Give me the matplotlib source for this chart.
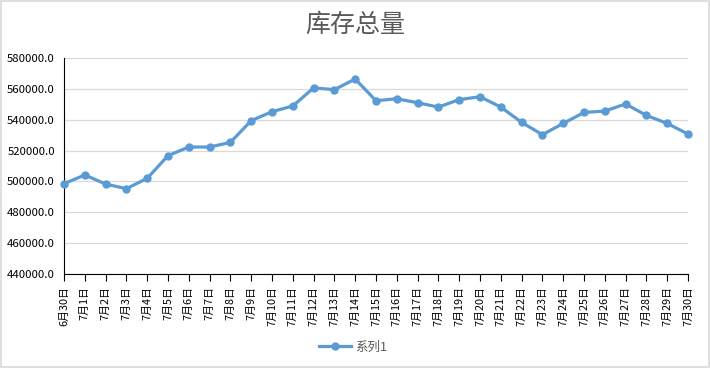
import matplotlib.pyplot as plt
from matplotlib.patches import Rectangle

plt.rcParams['font.family'] = ['Noto Sans CJK SC', 'DejaVu Sans']

dates = ["6月30日"] + [f"7月{d}日" for d in range(1, 31)]
stock = [498500, 504200, 498300, 495300, 502000, 516700, 522300, 522300,
         525300, 539400, 545200, 548900, 560600, 559500, 566400, 552300,
         553600, 551000, 548200, 553000, 554900, 548200, 538300, 530300,
         537600, 544700, 545600, 550200, 542800, 537600, 530700]
yticks = [440000, 460000, 480000, 500000, 520000, 540000, 560000, 580000]

fig = plt.figure(figsize=(7.1, 3.68), dpi=100)
ax = fig.add_axes([64 / 710, 1 - 274 / 368, 624 / 710, 216 / 368])

x = list(range(len(dates)))
ax.plot(x, stock, color="#5B9BD5", linewidth=2.3, marker="o",
        markersize=5, label="系列1", clip_on=False, zorder=3)

ax.set_xlim(0, len(dates) - 1)
ax.set_ylim(440000, 580000)
ax.set_yticks(yticks)
ax.set_yticklabels([f"{v:.1f}" for v in yticks], fontsize=8.2, color="#000000")
ax.set_xticks(x)
ax.set_xticklabels(dates, rotation=90, fontsize=7.8, va="top", ha="center")

ax.grid(axis="y", color="#d9d9d9", linewidth=0.9)
ax.set_axisbelow(True)
for s in ["top", "right"]:
    ax.spines[s].set_visible(False)
ax.spines["left"].set_color("black")
ax.spines["bottom"].set_color("black")
ax.spines["left"].set_linewidth(0.8)
ax.spines["bottom"].set_linewidth(0.8)
ax.tick_params(axis="y", length=0, pad=6.5)
ax.tick_params(axis="x", length=5, width=0.8, direction="out", pad=4)

fig.text(355 / 710, 1 - 25 / 368, "库存总量", ha="center", va="center",
         fontsize=18, color="#595959")

leg = fig.legend(loc="center", bbox_to_anchor=(353 / 710, 1 - 347 / 368),
                 frameon=False, fontsize=9, handlelength=2.6,
                 handletextpad=0.3, labelcolor="#595959")

fig.patches.append(Rectangle((0.002, 0.003), 0.996, 0.994, transform=fig.transFigure,
                             fill=False, edgecolor="#d9d9d9", linewidth=1.2))

fig.savefig("out.png", dpi=100, facecolor="white")
